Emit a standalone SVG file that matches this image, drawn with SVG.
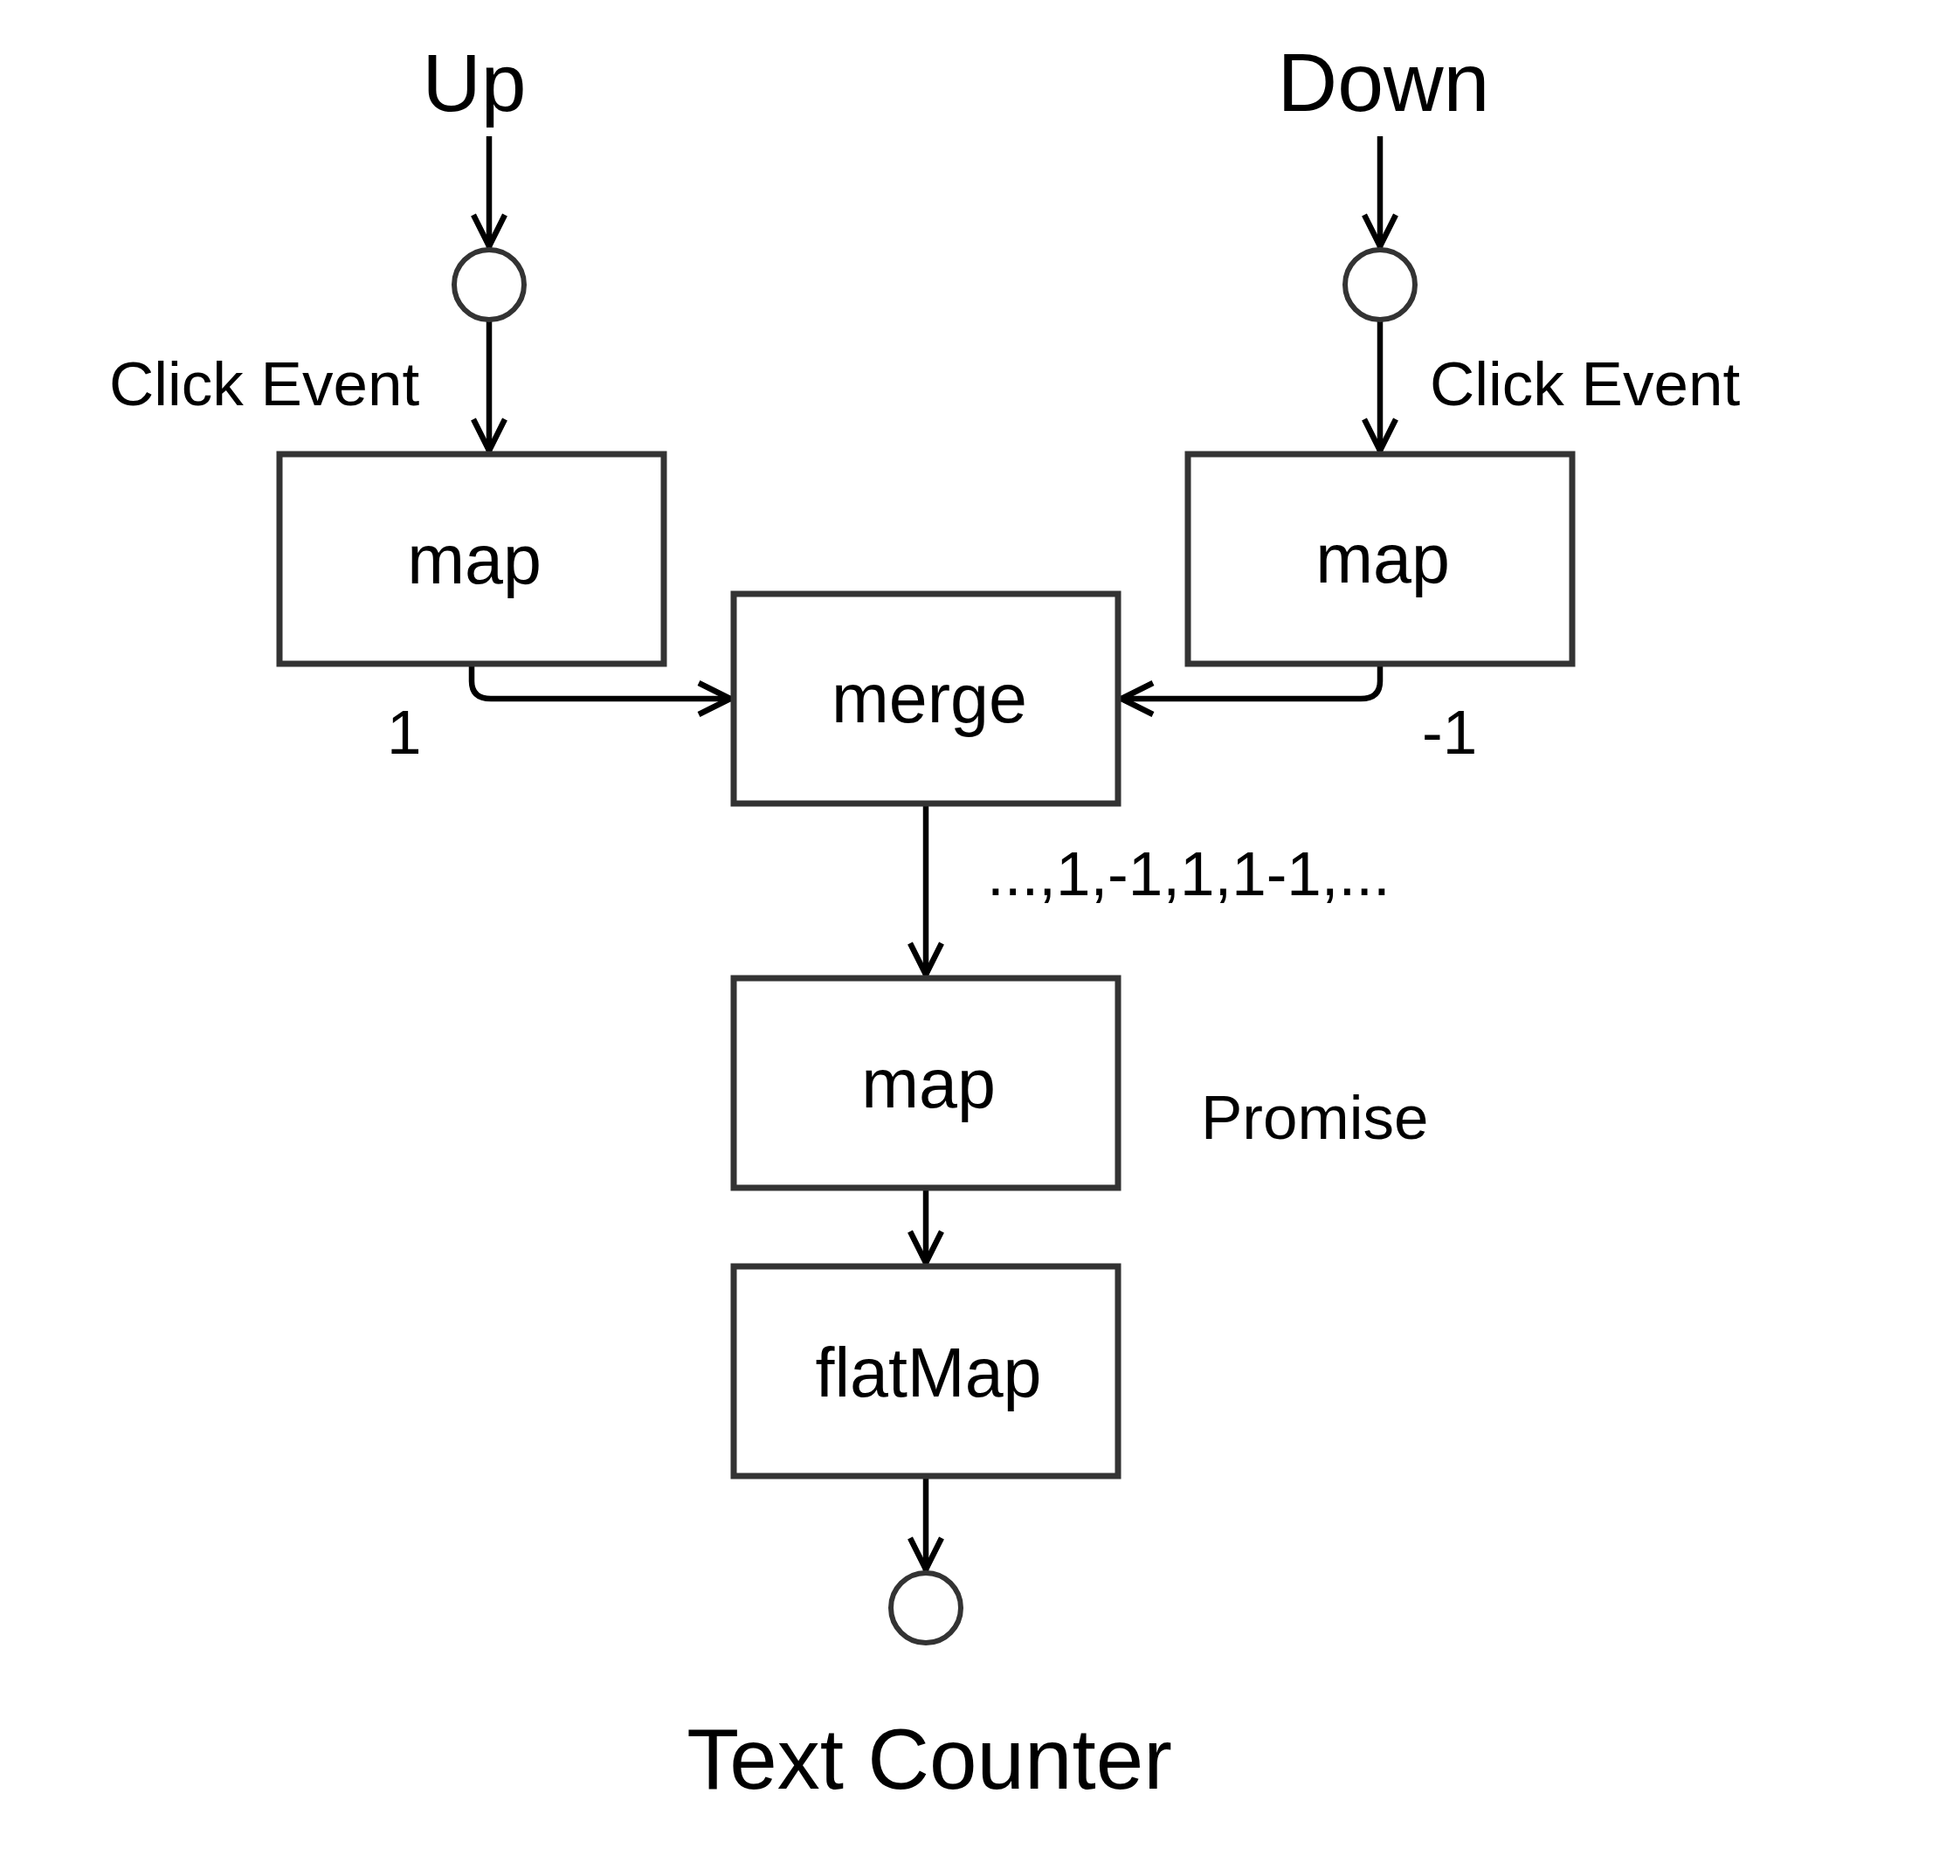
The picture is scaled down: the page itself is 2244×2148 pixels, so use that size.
<svg xmlns="http://www.w3.org/2000/svg" width="2244" height="2148" viewBox="0 0 2244 2148">
<style>
.box{fill:#fff;stroke:#333;stroke-width:7}
.circ{fill:#fff;stroke:#333;stroke-width:6}
.edge{fill:none;stroke:#000;stroke-width:6.5}
text{font-family:"Liberation Sans",Arial,sans-serif;fill:#000}
.lbl{font-size:79px;text-anchor:middle}
.title{font-size:93px;text-anchor:middle}
.note{font-size:71px}
</style>
<defs>
<marker id="arr" markerUnits="userSpaceOnUse" viewBox="-50 -25 55 50" markerWidth="55" markerHeight="50" refX="0" refY="0" orient="auto">
<path d="M-38,-18 L-2,0 L-38,18" fill="none" stroke="#000" stroke-width="6.5"/>
</marker>
</defs>
<rect width="2244" height="2148" fill="#fff"/>
<g id="connectors">
<path class="edge" d="M560,156 L560,284" marker-end="url(#arr)"/>
<path class="edge" d="M560,367 L560,518" marker-end="url(#arr)"/>
<path class="edge" d="M1580,156 L1580,284" marker-end="url(#arr)"/>
<path class="edge" d="M1580,367 L1580,518" marker-end="url(#arr)"/>
<path class="edge" d="M540,763 L540,780 Q540,800 562,800 L838,800" marker-end="url(#arr)"/>
<path class="edge" d="M1580,763 L1580,780 Q1580,800 1558,800 L1282,800" marker-end="url(#arr)"/>
<path class="edge" d="M1060,923 L1060,1118" marker-end="url(#arr)"/>
<path class="edge" d="M1060,1363 L1060,1448" marker-end="url(#arr)"/>
<path class="edge" d="M1060,1693 L1060,1799" marker-end="url(#arr)"/>
</g>
<g id="up"><text class="title" x="543" y="127">Up</text></g>
<g id="down"><text class="title" x="1584" y="127" style="font-size:95px">Down</text></g>
<g id="upSource"><circle class="circ" cx="560" cy="326" r="40"/></g>
<g id="downSource"><circle class="circ" cx="1580" cy="326" r="40"/></g>
<g id="clickLeft"><text class="note" x="125" y="464">Click Event</text></g>
<g id="clickRight"><text class="note" x="1637" y="464">Click Event</text></g>
<g id="mapUp"><rect class="box" x="320" y="520" width="440" height="240"/><text class="lbl" x="543" y="668">map</text></g>
<g id="mapDown"><rect class="box" x="1360" y="520" width="440" height="240"/><text class="lbl" x="1583" y="667">map</text></g>
<g id="one"><text class="note" x="443" y="863">1</text></g>
<g id="minusOne"><text class="note" x="1628" y="863">-1</text></g>
<g id="merge"><rect class="box" x="840" y="680" width="440" height="240"/><text class="lbl" x="1064" y="827">merge</text></g>
<g id="seq"><text class="note" x="1130" y="1025">...,1,-1,1,1-1,...</text></g>
<g id="mapPromise"><rect class="box" x="840" y="1120" width="440" height="240"/><text class="lbl" x="1063" y="1268">map</text></g>
<g id="promise"><text class="note" x="1375" y="1304">Promise</text></g>
<g id="flatMap"><rect class="box" x="840" y="1450" width="440" height="240"/><text class="lbl" x="1063" y="1599">flatMap</text></g>
<g id="sink"><circle class="circ" cx="1060" cy="1841" r="40"/></g>
<g id="textCounter"><text class="title" x="1064" y="2048" style="font-size:98px">Text Counter</text></g>
</svg>
